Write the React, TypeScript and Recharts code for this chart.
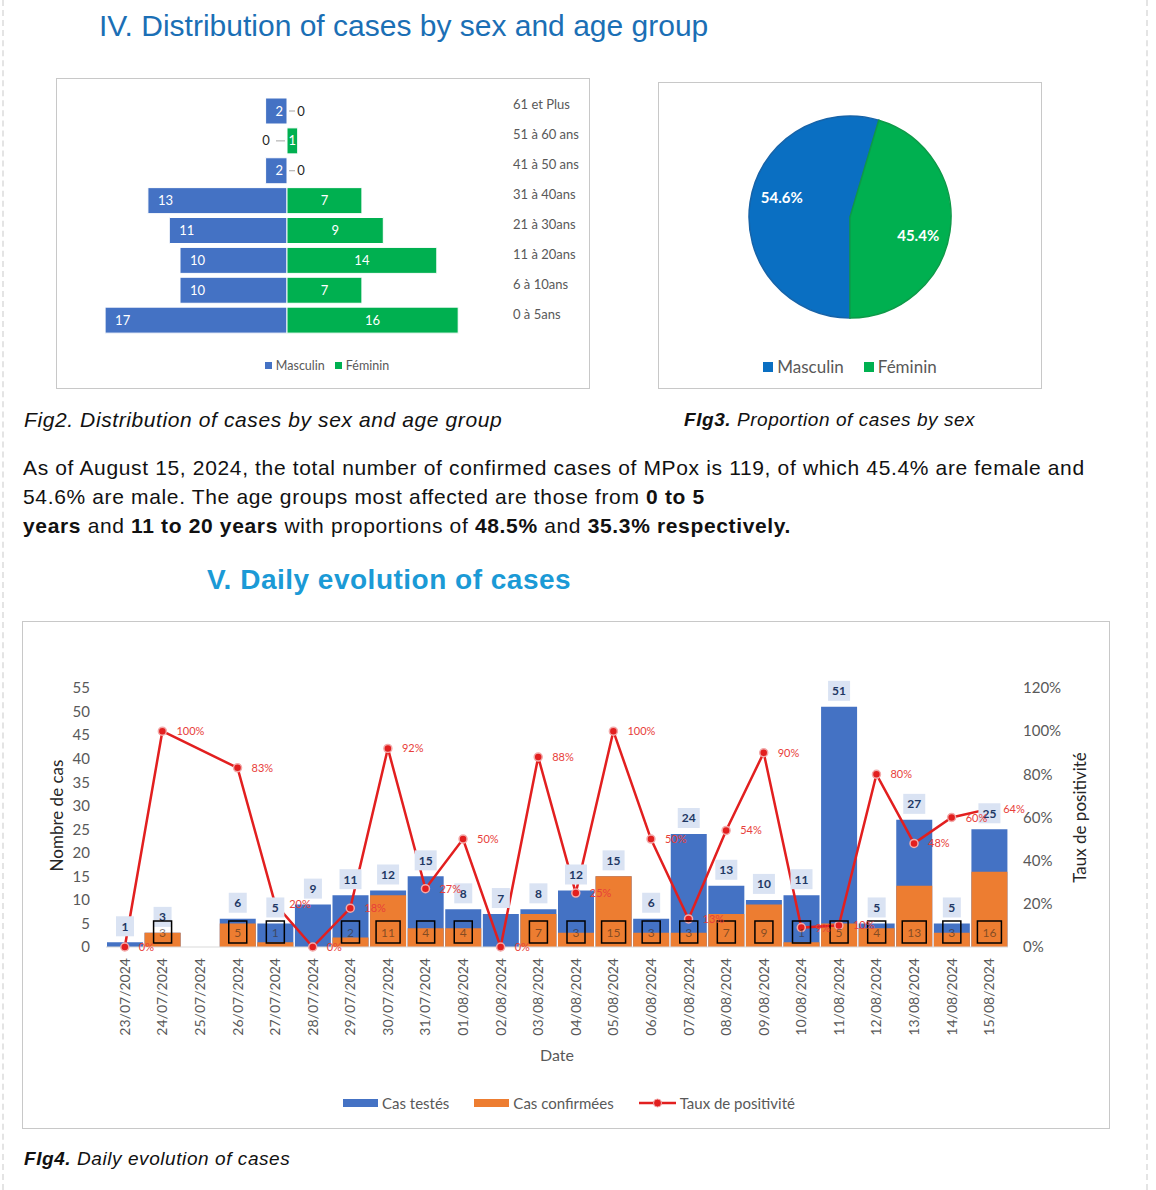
import React from 'react';
import {
  BarChart, Bar, XAxis, YAxis, Legend, LabelList, PieChart, Pie, Cell,
  ComposedChart, Line,
} from 'recharts';

// Fig2 - age pyramid
const ageGroups = ['61 et Plus', '51 à 60 ans', '41 à 50 ans', '31 à 40ans', '21 à 30ans', '11 à 20ans', '6 à 10ans', '0 à 5ans'];
const maleByAge = [2, 0, 2, 13, 11, 10, 10, 17];
const femaleByAge = [0, 1, 0, 7, 9, 14, 7, 16];

// Fig3 - share by sex
const sexLabels = ['Masculin', 'Féminin'];
const sexShares = [54.6, 45.4];

// Fig4 - daily evolution
const dates = [
  '23/07/2024', '24/07/2024', '25/07/2024', '26/07/2024', '27/07/2024', '28/07/2024',
  '29/07/2024', '30/07/2024', '31/07/2024', '01/08/2024', '02/08/2024', '03/08/2024',
  '04/08/2024', '05/08/2024', '06/08/2024', '07/08/2024', '08/08/2024', '09/08/2024',
  '10/08/2024', '11/08/2024', '12/08/2024', '13/08/2024', '14/08/2024', '15/08/2024',
];
const casesTested = [1, 3, null, 6, 5, 9, 11, 12, 15, 8, 7, 8, 12, 15, 6, 24, 13, 10, 11, 51, 5, 27, 5, 25];
const casesConfirmed = [0, 3, null, 5, 1, 0, 2, 11, 4, 4, 0, 7, 3, 15, 3, 3, 7, 9, 1, 5, 4, 13, 3, 16];
const positivityRate = [0, 100, null, 83, 20, 0, 18, 92, 27, 50, 0, 88, 25, 100, 50, 13, 54, 90, 9, 10, 80, 48, 60, 64];
const casesTicks = [0, 5, 10, 15, 20, 25, 30, 35, 40, 45, 50, 55];
const rateTicks = [0, 20, 40, 60, 80, 100, 120];

const BLUE = '#4472C4';
const GREEN = '#00B050';
const ORANGE = '#ED7D31';
const RED = '#E21F1F';
const CHART_FONT = 'Lato, "Open Sans", sans-serif';

const pyramidData = ageGroups.map((group, i) => ({ group, masculin: -maleByAge[i], feminin: femaleByAge[i] }));
const sexData = sexLabels.map((name, i) => ({ name, value: sexShares[i] }));
const dailyData = dates.map((date, i) => ({
  date, tested: casesTested[i], confirmed: casesConfirmed[i], rate: positivityRate[i],
}));

function box(props: any) {
  const vb = props.viewBox && props.viewBox.x != null ? props.viewBox : props;
  return { x: Number(vb.x), y: Number(vb.y), width: Number(vb.width || 0), height: Number(vb.height || 0) };
}

// zero values get no bar of their own, so the other bar of the row draws them
const ZeroRight = ({ cx, cy }: any) => (
  <g>
    <line x1={cx + 2} x2={cx + 8} y1={cy} y2={cy} stroke="#a6a6a6" />
    <text x={cx + 14} y={cy} dy={4.5} textAnchor="middle" fontSize={13} fill="#262626" fontFamily={CHART_FONT}>0</text>
  </g>
);
const ZeroLeft = ({ cx, cy }: any) => (
  <g>
    <line x1={cx - 11} x2={cx - 2} y1={cy} y2={cy} stroke="#a6a6a6" />
    <text x={cx - 21} y={cy} dy={4.5} textAnchor="middle" fontSize={13} fill="#262626" fontFamily={CHART_FONT}>0</text>
  </g>
);

// LabelList is keyed on the group name, so the row is known even when bars are skipped
const MaleLabel = (props: any) => {
  const i = ageGroups.indexOf(props.value);
  if (i < 0) return null;
  const { x, y, width, height } = box(props);
  const left = Math.min(x, x + width);
  const right = Math.max(x, x + width);
  const cy = y + height / 2;
  return (
    <g>
      <text x={left + 10} y={cy} dy={4.5} fontSize={13} fill="#fff" fontFamily={CHART_FONT}>{maleByAge[i]}</text>
      {femaleByAge[i] === 0 && <ZeroRight cx={right} cy={cy} />}
    </g>
  );
};

const FemaleLabel = (props: any) => {
  const i = ageGroups.indexOf(props.value);
  if (i < 0) return null;
  const { x, y, width, height } = box(props);
  const cy = y + height / 2;
  return (
    <g>
      <text x={x + width / 2} y={cy} dy={4.5} textAnchor="middle" fontSize={13} fill="#fff" fontFamily={CHART_FONT}>{femaleByAge[i]}</text>
      {maleByAge[i] === 0 && <ZeroLeft cx={x} cy={cy} />}
    </g>
  );
};

const AgeTick = ({ x, y, payload }: any) => (
  <text x={x} y={y - 6} dy={4.5} fontSize={13} fill="#595959" fontFamily={CHART_FONT}>{payload.value}</text>
);

const SwatchLegend = ({ items, size, fontSize, height, gap }: any) => (
  <div style={{ height, display: 'flex', alignItems: 'flex-end', justifyContent: 'center', fontFamily: CHART_FONT, fontSize, color: '#595959', lineHeight: 1 }}>
    {items.map((it: any, k: number) => (
      <span key={it.label} style={{ display: 'inline-flex', alignItems: 'center', marginLeft: k ? gap : 0 }}>
        <span style={{ width: size, height: size, background: it.color, marginRight: 4, display: 'inline-block' }} />
        {it.label}
      </span>
    ))}
  </div>
);

const PieLabel = (props: any) => {
  const { cx, cy, midAngle, outerRadius, percent } = props;
  const RAD = Math.PI / 180;
  const r = outerRadius * 0.7;
  const a = midAngle - 7;
  const px = cx + r * Math.cos(-a * RAD);
  const py = cy + r * Math.sin(-a * RAD);
  return (
    <text x={px} y={py} dy={5} textAnchor="middle" fontSize={15} fontWeight={700} fill="#fff" fontFamily={CHART_FONT}>
      {(percent * 100).toFixed(1)}%
    </text>
  );
};

const TestedLabel = (props: any) => {
  if (props.value == null) return null;
  const { x, y, width } = box(props);
  const s = String(props.value);
  const w = s.length > 1 ? 22 : 18;
  const cx = x + width / 2;
  return (
    <g>
      <rect x={cx - w / 2} y={y - 26} width={w} height={20} fill="#DAE3F3" />
      <text x={cx} y={y - 11.5} textAnchor="middle" fontSize={12} fontWeight={700} fill="#1F3864" fontFamily={CHART_FONT}>{s}</text>
    </g>
  );
};

const ConfirmedLabel = (props: any) => {
  if (props.value == null) return null;
  const { x, y, width, height } = box(props);
  const s = String(props.value);
  const w = s.length > 1 ? 24 : 18;
  const cx = x + width / 2;
  const base = y + height;
  return (
    <g>
      <rect x={cx - w / 2} y={base - 26} width={w} height={22} fill="none" stroke="#000" strokeWidth={1.5} />
      <text x={cx} y={base - 10.5} textAnchor="middle" fontSize={12} fill="#3b2a1a" fillOpacity={0.6} fontFamily={CHART_FONT}>{s}</text>
    </g>
  );
};

const RateLabel = (props: any) => {
  if (props.value == null) return null;
  const { x, y } = box(props);
  return <text x={x + 14} y={y + 4} fontSize={11} fill="#E8403A" fontFamily={CHART_FONT}>{props.value}%</text>;
};

const DateTick = ({ x, y, payload }: any) => {
  const ax = x + 5;
  const ay = y + 3;
  return (
    <text x={ax} y={ay} transform={`rotate(-90 ${ax} ${ay})`} textAnchor="end" fontSize={14} fill="#595959" fontFamily={CHART_FONT}>
      {payload.value}
    </text>
  );
};

const DailyLegend = () => (
  <div style={{ height: 24, display: 'flex', alignItems: 'center', justifyContent: 'center', paddingLeft: 14, fontFamily: CHART_FONT, fontSize: 15, color: '#595959' }}>
    <span style={{ display: 'inline-block', width: 35, height: 8, background: BLUE, marginRight: 4 }} />
    <span style={{ marginRight: 25 }}>Cas testés</span>
    <span style={{ display: 'inline-block', width: 35, height: 8, background: ORANGE, marginRight: 4 }} />
    <span style={{ marginRight: 25 }}>Cas confirmées</span>
    <svg width={37} height={10} style={{ marginRight: 4 }}>
      <line x1={0} x2={37} y1={5} y2={5} stroke={RED} strokeWidth={2.5} />
      <circle cx={18.5} cy={5} r={4} fill={RED} stroke="#F2AAAA" strokeWidth={1} />
    </svg>
    <span>Taux de positivité</span>
  </div>
);

const PyramidChart = () => (
  <BarChart
    width={532} height={309} data={pyramidData} layout="vertical" stackOffset="sign"
    barCategoryGap={2} margin={{ top: 17, right: 8, left: 16, bottom: 16 }}
  >
    <XAxis type="number" domain={[-20, 20]} hide />
    <YAxis
      type="category" dataKey="group" orientation="right" width={80}
      axisLine={false} tickLine={false} tickMargin={6} tick={<AgeTick />} interval={0}
    />
    <Legend
      verticalAlign="bottom"
      content={() => (
        <SwatchLegend height={37} size={7} fontSize={12.5} gap={10}
          items={[{ label: 'Masculin', color: BLUE }, { label: 'Féminin', color: GREEN }]} />
      )}
    />
    <Bar dataKey="masculin" stackId="a" fill={BLUE} stroke="#fff" strokeWidth={1} isAnimationActive={false}>
      <LabelList dataKey="group" content={<MaleLabel />} />
    </Bar>
    <Bar dataKey="feminin" stackId="a" fill={GREEN} stroke="#fff" strokeWidth={1} isAnimationActive={false}>
      <LabelList dataKey="group" content={<FemaleLabel />} />
    </Bar>
  </BarChart>
);

const SexPie = () => (
  <PieChart width={382} height={305} margin={{ top: 0, right: 0, left: 0, bottom: 13 }}>
    <Pie
      data={sexData} dataKey="value" nameKey="name" cx={191} cy={134} outerRadius={101}
      startAngle={-90} endAngle={-450} label={<PieLabel />} labelLine={false} isAnimationActive={false}
    >
      <Cell fill="#0A6FC2" stroke="#1763a8" strokeWidth={1.5} />
      <Cell fill={GREEN} stroke="#0d9a48" strokeWidth={1.5} />
    </Pie>
    <Legend
      verticalAlign="bottom"
      content={() => (
        <SwatchLegend height={22} size={10} fontSize={17} gap={20}
          items={[{ label: 'Masculin', color: '#0A6FC2' }, { label: 'Féminin', color: GREEN }]} />
      )}
    />
  </PieChart>
);

const DailyChart = () => (
  <ComposedChart
    width={1086} height={506} data={dailyData} barSize={36} barGap={-36}
    margin={{ top: 66, right: 41, left: 33, bottom: 13 }}
  >
    <XAxis
      dataKey="date" height={144} interval={0} tick={<DateTick />} tickLine={false}
      axisLine={{ stroke: '#d9d9d9' }}
      label={(p: any) => {
        const vb = p.viewBox;
        return <text x={vb.x + vb.width / 2} y={vb.y + 114} textAnchor="middle" fontSize={16} fill="#595959" fontFamily={CHART_FONT}>Date</text>;
      }}
    />
    <YAxis
      yAxisId="cases" domain={[0, 55]} ticks={casesTicks} width={50} axisLine={false} tickLine={false}
      tickMargin={10} tick={{ fontSize: 15, fill: '#595959', fontFamily: CHART_FONT }}
      label={(p: any) => {
        const vb = p.viewBox;
        const cx = vb.x + 1;
        const cy = vb.y + vb.height / 2 - 2;
        return <text x={cx} y={cy} dy={5.5} transform={`rotate(-90 ${cx} ${cy})`} textAnchor="middle" fontSize={17} fill="#262626" fontFamily={CHART_FONT}>Nombre de cas</text>;
      }}
    />
    <YAxis
      yAxisId="rate" orientation="right" domain={[0, 120]} ticks={rateTicks} width={60} axisLine={false} tickLine={false}
      tickMargin={9} tickFormatter={(v: number) => `${v}%`} tick={{ fontSize: 15, fill: '#595959', fontFamily: CHART_FONT }}
      label={(p: any) => {
        const vb = p.viewBox;
        const cx = vb.x + 72;
        const cy = vb.y + vb.height / 2;
        return <text x={cx} y={cy} dy={5.5} transform={`rotate(-90 ${cx} ${cy})`} textAnchor="middle" fontSize={17} fill="#262626" fontFamily={CHART_FONT}>Taux de positivité</text>;
      }}
    />
    <Legend verticalAlign="bottom" content={() => <DailyLegend />} />
    <Bar yAxisId="cases" dataKey="tested" fill={BLUE} isAnimationActive={false}>
      <LabelList dataKey="tested" content={<TestedLabel />} />
    </Bar>
    <Bar yAxisId="cases" dataKey="confirmed" fill={ORANGE} isAnimationActive={false}>
      <LabelList dataKey="confirmed" content={<ConfirmedLabel />} />
    </Bar>
    <Line
      yAxisId="rate" dataKey="rate" stroke={RED} strokeWidth={2.5} connectNulls
      dot={{ r: 4, fill: RED, stroke: '#F2AAAA', strokeWidth: 1.5 }} isAnimationActive={false}
    >
      <LabelList dataKey="rate" content={<RateLabel />} />
    </Line>
  </ComposedChart>
);

const abs = (left: number, top: number, extra: React.CSSProperties = {}): React.CSSProperties => ({
  position: 'absolute', left, top, whiteSpace: 'nowrap', lineHeight: 1, ...extra,
});

export default function App() {
  const body: React.CSSProperties = { fontFamily: '"Liberation Sans", Arial, sans-serif', color: '#111' };
  const para = { fontSize: 21, letterSpacing: 0.65 };
  return (
    <div style={{ position: 'absolute', left: 0, top: 0, width: 1156, height: 1190, background: '#fff', overflow: 'hidden', ...body }}>
      <div style={{ position: 'absolute', left: 2, top: 0, height: 1190, borderLeft: '2px dashed #e4e4e4' }} />
      <div style={{ position: 'absolute', left: 1146, top: 0, height: 1190, borderLeft: '2px dashed #e4e4e4' }} />

      <div style={abs(99, 11, { fontSize: 30, color: '#1B6FB5' })}>IV. Distribution of cases by sex and age group</div>

      <div style={{ position: 'absolute', left: 56, top: 78, width: 532, height: 309, border: '1px solid #c8c8c8' }}>
        <PyramidChart />
      </div>
      <div style={{ position: 'absolute', left: 658, top: 82, width: 382, height: 305, border: '1px solid #c8c8c8' }}>
        <SexPie />
      </div>

      <div style={abs(24, 409, { fontSize: 21, letterSpacing: 0.6, fontStyle: 'italic' })}>Fig2. Distribution of cases by sex and age group</div>
      <div style={abs(684, 410, { fontSize: 19, letterSpacing: 0.55, fontStyle: 'italic' })}><b>FIg3.</b> Proportion of cases by sex</div>

      <div style={abs(23, 457, para)}>As of August 15, 2024, the total number of confirmed cases of MPox is 119, of which 45.4% are female and</div>
      <div style={abs(23, 486, para)}>54.6% are male. The age groups most affected are those from <b>0 to 5</b></div>
      <div style={abs(23, 515, para)}><b>years</b> and <b>11 to 20 years</b> with proportions of <b>48.5%</b> and <b>35.3% respectively.</b></div>

      <div style={abs(207, 566, { fontSize: 28, letterSpacing: 0.5, fontWeight: 700, color: '#1B9AD6' })}>V. Daily evolution of cases</div>

      <div style={{ position: 'absolute', left: 22, top: 621, width: 1086, height: 506, border: '1px solid #c8c8c8' }}>
        <DailyChart />
      </div>

      <div style={abs(24, 1149, { fontSize: 19, letterSpacing: 0.57, fontStyle: 'italic' })}><b>FIg4.</b> Daily evolution of cases</div>
    </div>
  );
}
